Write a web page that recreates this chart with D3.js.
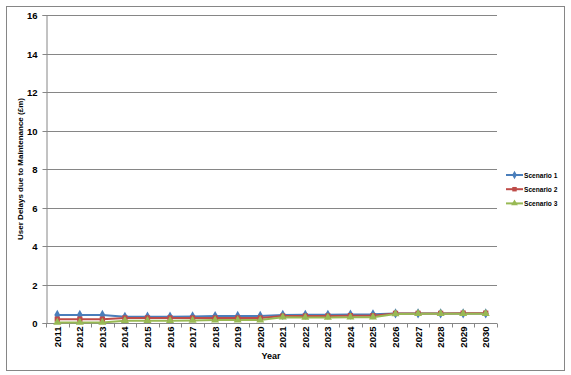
<!DOCTYPE html>
<html><head><meta charset="utf-8">
<script src="https://cdn.jsdelivr.net/npm/d3@7"></script>
<style>body{margin:0;background:#fff}svg{display:block}text{font-family:"Liberation Sans",Arial,sans-serif;font-weight:bold;fill:#000}</style>
</head><body><svg id="c" width="571" height="375"></svg>
<script>
const years = ["2011","2012","2013","2014","2015","2016","2017","2018","2019","2020","2021","2022","2023","2024","2025","2026","2027","2028","2029","2030"];
const scenario1 = [0.42,0.42,0.42,0.32,0.33,0.33,0.34,0.36,0.37,0.37,0.42,0.43,0.43,0.44,0.45,0.50,0.50,0.50,0.50,0.50];
const scenario2 = [0.20,0.20,0.20,0.26,0.26,0.26,0.26,0.26,0.26,0.26,0.36,0.36,0.36,0.38,0.38,0.50,0.50,0.50,0.51,0.51];
const scenario3 = [0.03,0.03,0.03,0.12,0.12,0.12,0.13,0.15,0.15,0.15,0.30,0.29,0.29,0.30,0.30,0.47,0.48,0.48,0.48,0.48];
const seriesNames = ["Scenario 1","Scenario 2","Scenario 3"];
const yTicks = [0,2,4,6,8,10,12,14,16];

const series = [
  {name:seriesNames[0], values:scenario1, color:"#4a7ebb", shape:d3.symbolDiamond, size:30},
  {name:seriesNames[1], values:scenario2, color:"#be4b48", shape:d3.symbolSquare, size:28},
  {name:seriesNames[2], values:scenario3, color:"#98b954", shape:d3.symbolTriangle, size:28}
];

const svg = d3.select("#c");
const L=46, R=497, T=15, B=323;
const gray="#868686";

svg.append("rect").attr("x",6.5).attr("y",6.5).attr("width",558).attr("height",364)
  .attr("fill","#fff").attr("stroke",gray).attr("stroke-width",1);

const x = d3.scaleBand().domain(years).range([L,R]);
const y = d3.scaleLinear().domain([0,16]).range([B,T]);

svg.append("g").selectAll("line").data(yTicks.filter(d=>d>0)).join("line")
  .attr("x1",L).attr("x2",R).attr("y1",d=>Math.round(y(d))+0.5).attr("y2",d=>Math.round(y(d))+0.5)
  .attr("stroke",gray).attr("stroke-width",1);

const ya = svg.append("g").attr("transform",`translate(${L+0.5},0)`)
  .call(d3.axisLeft(y).tickValues(yTicks).tickSize(4).tickPadding(5));
ya.selectAll("path,line").attr("stroke",gray);
ya.selectAll("text").style("font-size","9.5px").style("font-family","Liberation Sans").style("font-weight","bold");
ya.selectAll(".tick").attr("transform",d=>`translate(0,${Math.round(y(d))+0.5})`);

const xg = svg.append("g").attr("transform",`translate(0,${B+0.5})`);
xg.append("line").attr("x1",L).attr("x2",R).attr("stroke",gray);
const bounds = d3.range(years.length+1).map(i=>L+i*x.step());
xg.selectAll("line.t").data(bounds).join("line").attr("class","t")
  .attr("x1",d=>Math.round(d)+0.5).attr("x2",d=>Math.round(d)+0.5).attr("y1",0).attr("y2",4).attr("stroke",gray);
xg.selectAll("text").data(years).join("text")
  .attr("transform",d=>`translate(${x(d)+x.bandwidth()/2+3.5},${3}) rotate(-90)`)
  .attr("text-anchor","end").style("font-size","9.5px").text(d=>d);

svg.append("text").attr("x",271).attr("y",359).attr("text-anchor","middle").style("font-size","9px").text("Year");
svg.append("text").attr("transform",`translate(23,169) rotate(-90)`).attr("text-anchor","middle")
  .style("font-size","8px").text("User Delays due to Maintenance (£m)");

const line = d3.line().x((d,i)=>x(years[i])+x.bandwidth()/2).y(d=>y(d));
series.forEach(s=>{
  svg.append("path").datum(s.values).attr("d",line).attr("fill","none").attr("stroke",s.color).attr("stroke-width",2);
});
series.forEach(s=>{
  svg.append("g").selectAll("path").data(s.values).join("path")
    .attr("transform",(d,i)=>`translate(${x(years[i])+x.bandwidth()/2},${y(d)})`)
    .attr("d",d3.symbol().type(s.shape).size(s.size))
    .attr("fill",s.color);
});

const lg = svg.append("g");
series.forEach((s,i)=>{
  const yy = 175 + i*14.2;
  lg.append("line").attr("x1",506).attr("x2",523).attr("y1",yy).attr("y2",yy).attr("stroke",s.color).attr("stroke-width",2);
  lg.append("path").attr("transform",`translate(514.5,${yy})`).attr("d",d3.symbol().type(s.shape).size(20)).attr("fill",s.color);
  lg.append("text").attr("x",524).attr("y",yy+2.5).style("font-size","6.6px").text(s.name);
});
</script></body></html>
